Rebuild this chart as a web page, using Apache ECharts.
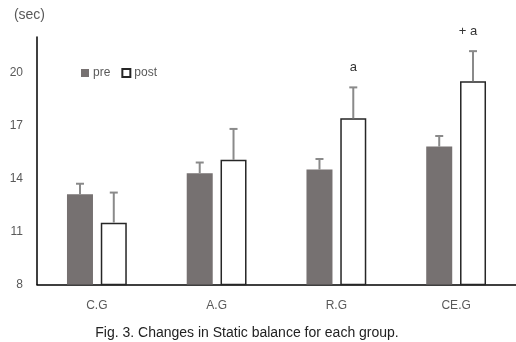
<!DOCTYPE html>
<html>
<head>
<meta charset="utf-8">
<script src="https://cdn.jsdelivr.net/npm/echarts@6/dist/echarts.min.js"></script>
<style>html,body{margin:0;padding:0;background:#fff;}#c{width:516px;height:342px;}</style>
</head>
<body>
<div id="c"></div>
<script>
var categories = ['C.G', 'A.G', 'R.G', 'CE.G'];
var preMean = [13.1, 14.3, 14.5, 15.8];
var preSD = [0.6, 0.6, 0.6, 0.6];
var postMean = [11.5, 15.05, 17.4, 19.5];
var postSD = [1.7, 1.75, 1.75, 1.7];
var postMarks = ['', '', 'a', '+ a'];
var yTicks = [8, 11, 14, 17, 20];

var chart = echarts.init(document.getElementById('c'));
var FONT = '"Liberation Sans", Arial, sans-serif';
var barW = 26, gapRatio = 0.3;
var offset = (barW * 2 + barW * gapRatio) / 2 - barW / 2; // center offset of each bar

function errData(mean, sd, marks) {
  return mean.map(function (m, i) { return [i, m, m + sd[i], marks ? marks[i] : '']; });
}
function errRender(sign) {
  return function (params, api) {
    var x = api.value(0);
    var base = api.coord([x, api.value(1)]);
    var top = api.coord([x, api.value(2)]);
    var cx = base[0] + sign * offset;
    var children = [
      { type: 'line', shape: { x1: cx, y1: base[1], x2: cx, y2: top[1] }, style: { stroke: '#8a8a8a', lineWidth: 2 } },
      { type: 'line', shape: { x1: cx - 4, y1: top[1], x2: cx + 4, y2: top[1] }, style: { stroke: '#8a8a8a', lineWidth: 2 } }
    ];
    var mark = api.value(3);
    if (mark) {
      children.push({ type: 'text', style: { text: mark, x: cx - (mark.length > 1 ? 5 : 0), y: top[1] - 20, align: 'center', verticalAlign: 'middle', fill: '#333', font: '13px ' + FONT } });
    }
    return { type: 'group', children: children };
  };
}

chart.setOption({
  animation: false,
  grid: { left: 37, right: 0, top: 37, bottom: 57.5, containLabel: false },
  legend: {
    left: 76, top: 62, itemWidth: 8, itemHeight: 8, itemGap: 11,
    textStyle: { color: '#595959', fontSize: 12, fontFamily: FONT, padding: [0, 0, 0, -1] },
    data: [{ name: 'pre', icon: 'rect' }, { name: 'post', icon: 'rect' }]
  },
  xAxis: {
    type: 'category', data: categories,
    axisLine: { lineStyle: { color: '#000', width: 1.5 } },
    axisTick: { show: false },
    axisLabel: { color: '#595959', fontSize: 12, fontFamily: FONT, margin: 15 }
  },
  yAxis: {
    type: 'value', min: 8, max: 22, interval: 3,
    name: '(sec)', nameLocation: 'end', nameGap: 15,
    nameTextStyle: { color: '#595959', fontSize: 14, fontFamily: FONT, align: 'right', padding: [0, -8, 0, 0] },
    axisLine: { show: true, lineStyle: { color: '#000', width: 1.5 } },
    axisTick: { show: false },
    splitLine: { show: false },
    axisLabel: {
      color: '#595959', fontSize: 12, fontFamily: FONT, margin: 14,
      formatter: function (v) { return yTicks.indexOf(v) >= 0 ? String(v) : ''; }
    }
  },
  series: [
    { name: 'pre', type: 'bar', data: preMean, barWidth: barW, barGap: (gapRatio * 100) + '%',
      itemStyle: { color: '#767171' } },
    { name: 'post', type: 'bar', data: postMean, barWidth: barW,
      itemStyle: { color: '#fff', borderColor: '#262626', borderWidth: 1.5 } },
    { type: 'custom', renderItem: errRender(-1), data: errData(preMean, preSD), z: 5, silent: true },
    { type: 'custom', renderItem: errRender(1), data: errData(postMean, postSD, postMarks), z: 5, silent: true }
  ],
  graphic: [{
    type: 'text', x: 247, y: 333,
    style: { text: 'Fig. 3. Changes in Static balance for each group.', fill: '#222', font: '14px ' + FONT, align: 'center', verticalAlign: 'middle' }
  }]
});
</script>
</body>
</html>
